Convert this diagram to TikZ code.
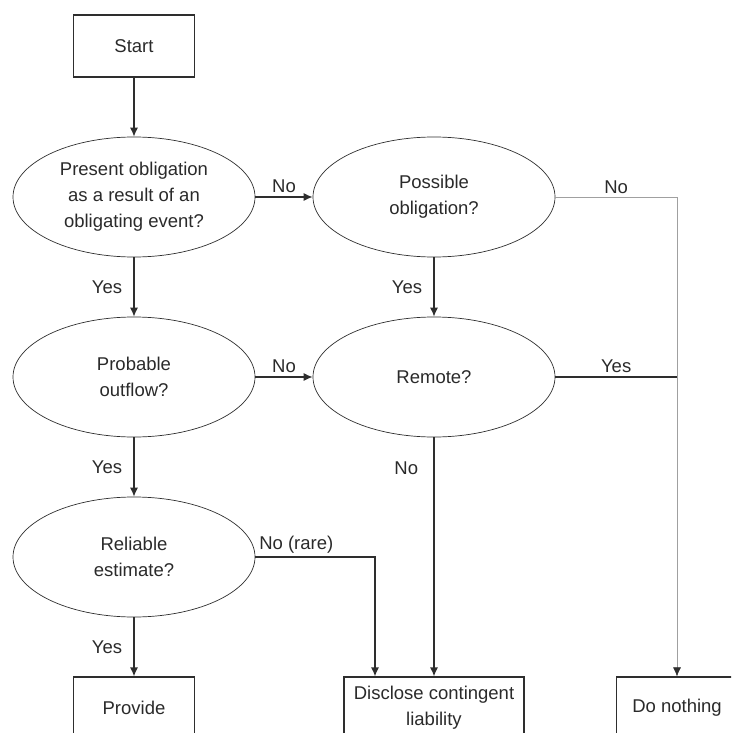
\documentclass[tikz,border=0pt]{standalone}
\usepackage{fontspec}
\setmainfont{Liberation Sans}
\usepackage{xcolor}
\usetikzlibrary{shapes.geometric, arrows.meta}
\definecolor{linecolor}{HTML}{2e2e2e}
\definecolor{textcolor}{HTML}{2a2a2a}
\definecolor{lightline}{HTML}{a0a0a0}

\begin{document}
\begin{tikzpicture}[
        every node/.style = {font = \fontsize{18.5pt}{26pt}\selectfont, text = textcolor},
        box/.style = {draw = linecolor, line width = 1.2pt, rectangle, minimum width = 121pt, minimum height = 62pt, align = center},
        question/.style = {draw = linecolor, line width = 0.7pt, ellipse, minimum width = 242pt, minimum height = 120pt, inner sep = 0pt, align = center},
        link/.style = {->, > = {Latex[length = 9pt, width = 8pt, color = linecolor]}, line width = 1.2pt, draw = linecolor},
        thinlink/.style = {link, line width = 0.6pt, draw = lightline}
    ]
        \useasboundingbox (0pt, 0pt) rectangle (731pt, -733pt);
        \clip (0pt, 0pt) rectangle (731pt, -733pt);
        % Nodes
        \node [box] (start) at (134pt, -46pt) {Start};
        \node [question] (present) at (134pt, -197pt) {Present obligation\\as a result of an\\obligating event?};
        \node [question] (possible) at (434pt, -197pt) {Possible\\obligation?};
        \node [question] (probable) at (134pt, -377pt) {Probable\\outflow?};
        \node [question] (remote) at (434pt, -377pt) {Remote?};
        \node [question] (reliable) at (134pt, -557pt) {Reliable\\estimate?};
        \node [box] (provide) at (134pt, -708pt) {Provide};
        \node [box, minimum width = 180pt] (disclose) at (434pt, -708pt) {Disclose contingent\\liability};
        \node [box] (nothing) at (677pt, -708pt) {Do nothing};
        \coordinate (rare) at ([xshift = -59pt] disclose.north);
        % Draw the links
        \draw [link] (start) -- (present);
        \draw [link] (present) -- node [above] {No} (possible);
        \draw [link] (present) -- node [left = 8pt] {Yes} (probable);
        \draw [link] (possible) -- node [left = 8pt] {Yes} (remote);
        \draw [link] (probable) -- node [above] {No} (remote);
        \draw [link] (probable) -- node [left = 8pt] {Yes} (reliable);
        \draw [link] (reliable) -- node [left = 8pt] {Yes} (provide);
        \draw [link] (remote) -- node [left = 12pt, pos = 0.13] {No} (disclose);
        \draw [link] (reliable) -| node [pos = 0, above right] {No (rare)} (rare);
        \draw [thinlink] (possible) -| node [pos = 0.25, above] {No} (nothing);
        \draw [line width = 1.2pt, draw = linecolor] (remote) -- node [above] {Yes} (remote.east -| nothing.north);
\end{tikzpicture}
\end{document}
